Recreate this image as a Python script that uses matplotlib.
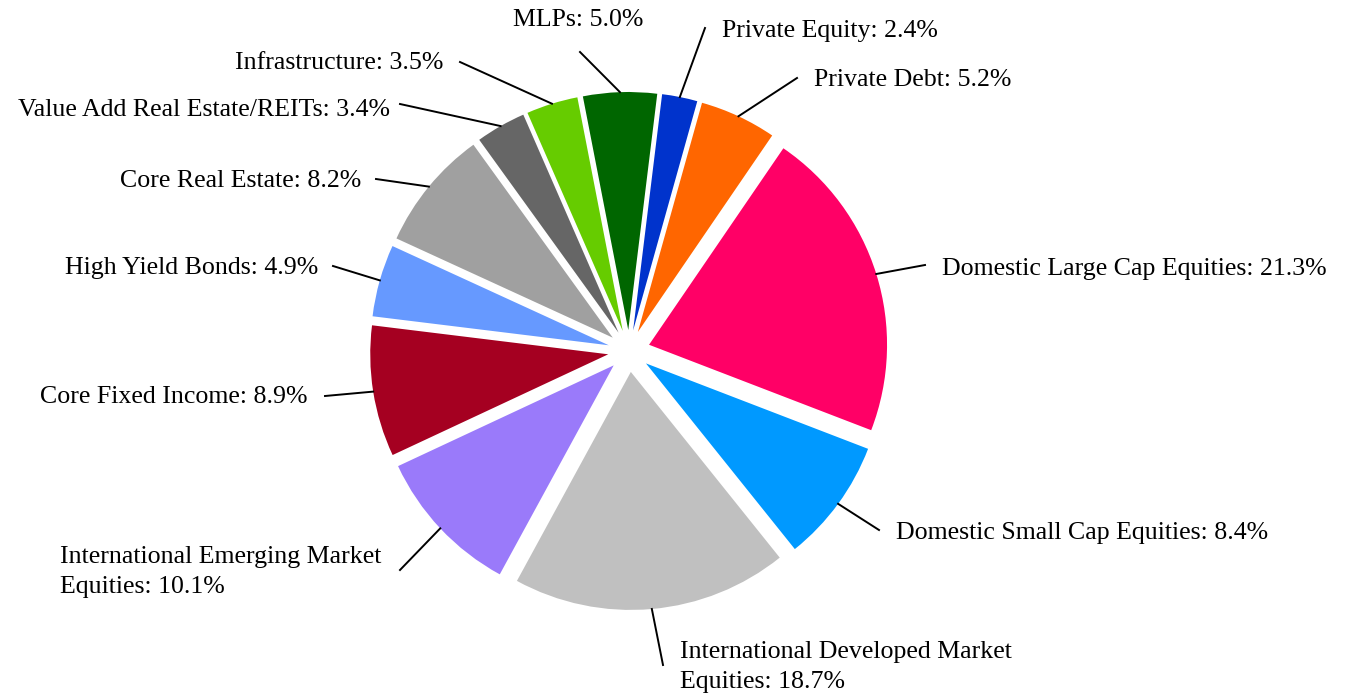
import numpy as np
import matplotlib
matplotlib.use('Agg')
import matplotlib.pyplot as plt

plt.rcParams['font.family'] = ['Liberation Serif', 'DejaVu Serif']

# Data (clockwise from the top)
labels = ['Private Equity', 'Private Debt', 'Domestic Large Cap Equities',
          'Domestic Small Cap Equities', 'International Developed Market\nEquities',
          'International Emerging Market\nEquities', 'Core Fixed Income',
          'High Yield Bonds', 'Core Real Estate', 'Value Add Real Estate/REITs',
          'Infrastructure', 'MLPs']
values = [2.4, 5.2, 21.3, 8.4, 18.7, 10.1, 8.9, 4.9, 8.2, 3.4, 3.5, 5.0]
colors = ['#0033CC', '#FF6600', '#FF0066', '#0099FF', '#C0C0C0', '#9A7AFA',
          '#A50021', '#6699FF', '#A0A0A0', '#666666', '#66CC00', '#006600']

W, H = 1349, 698
fig = plt.figure(figsize=(W / 100, H / 100), dpi=100)
ax = fig.add_axes([0, 0, 1, 1])

cx, cy = 629, H - 351
radius = 238
expl = 21  # explode distance (data units = pixels)

wedges, _ = ax.pie(values, colors=colors, startangle=83, counterclock=False,
                   center=(cx, cy), radius=radius, explode=[expl] * len(values),
                   frame=True, wedgeprops=dict(linewidth=0))
ax.set_xlim(0, W)
ax.set_ylim(0, H)
ax.set_aspect('equal')
ax.axis('off')

# label layout: (line end x, line end y, text x, text y, alignment) in image pixels
layout = [
    (705, 28, 722, 31, 'left'),
    (797, 78, 814, 80, 'left'),
    (925, 265, 942, 269, 'left'),
    (879, 530, 896, 533, 'left'),
    (663, 665, 680, 667, 'left'),
    (400, 570, 60, 572, 'left'),
    (325, 396, 308, 397, 'right'),
    (333, 266, 318, 268, 'right'),
    (376, 179, 361, 181, 'right'),
    (400, 104, 390, 110, 'right'),
    (460, 62, 443, 63, 'right'),
    (580, 52, 578, 20, 'center'),
]

for w, lab, val, (lx, ly, tx, ty, ha) in zip(wedges, labels, values, layout):
    ang = np.deg2rad((w.theta1 + w.theta2) / 2)
    r_out = radius + expl
    sx = cx + r_out * np.cos(ang)
    sy = cy + r_out * np.sin(ang)
    ax.plot([sx, lx], [sy, H - ly], color='black', linewidth=1.4)
    ax.text(tx, H - ty, f'{lab}: {val:.1f}%', ha=ha, va='center',
            multialignment='left', fontsize=18.6, linespacing=1.5)

fig.savefig('out.png', dpi=100)
